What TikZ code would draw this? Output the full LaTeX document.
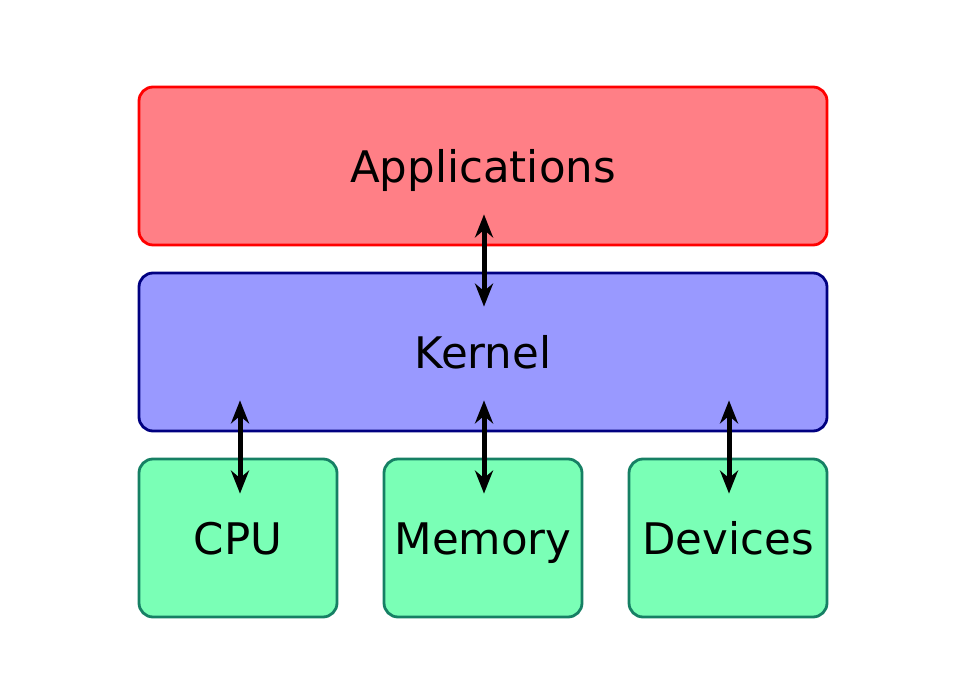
\documentclass[tikz,border=0pt]{standalone}
\usepackage{fontspec}
\setmainfont{DejaVu Sans}
\usetikzlibrary{arrows.meta,calc}
\definecolor{appfill}{HTML}{FF7F86}
\definecolor{appline}{HTML}{FF0000}
\definecolor{kfill}{HTML}{9999FF}
\definecolor{kline}{HTML}{000080}
\definecolor{hwfill}{HTML}{7AFFB6}
\definecolor{hwline}{HTML}{168064}
\tikzset{
  layer/.style={rounded corners=14pt, line width=2.8pt, minimum width=688pt, minimum height=158pt, inner sep=0pt, text height=36pt, text depth=2pt, font=\fontsize{43.5}{50}\selectfont},
  hwbox/.style={layer, minimum width=198pt, fill=hwfill, draw=hwline},
  biarrow/.style={line width=5pt, {Stealth[length=23pt,width=18pt]}-{Stealth[length=23pt,width=18pt]}}
}
\begin{document}
\begin{tikzpicture}[x=1pt,y=1pt]
\useasboundingbox (0,0) rectangle (971,677);
\node[layer, fill=appfill, draw=appline] (app) at (483,511) {Applications};
\node[layer, fill=kfill, draw=kline] (kernel) at (483,325) {Kernel};
\node[hwbox] (cpu) at (238,139) {CPU};
\node[hwbox] (mem) at (483,139) {Memory};
\node[hwbox] (dev) at (728,139) {Devices};
\draw[biarrow] ($(app.south)+(1,32)$) -- ($(kernel.north)+(1,-35)$);
\draw[biarrow] ($(kernel.south)+(-243,32)$) -- ($(cpu.north)+(2,-36)$);
\draw[biarrow] ($(kernel.south)+(1,32)$) -- ($(mem.north)+(1,-36)$);
\draw[biarrow] ($(kernel.south)+(246,32)$) -- ($(dev.north)+(1,-36)$);
\end{tikzpicture}
\end{document}
